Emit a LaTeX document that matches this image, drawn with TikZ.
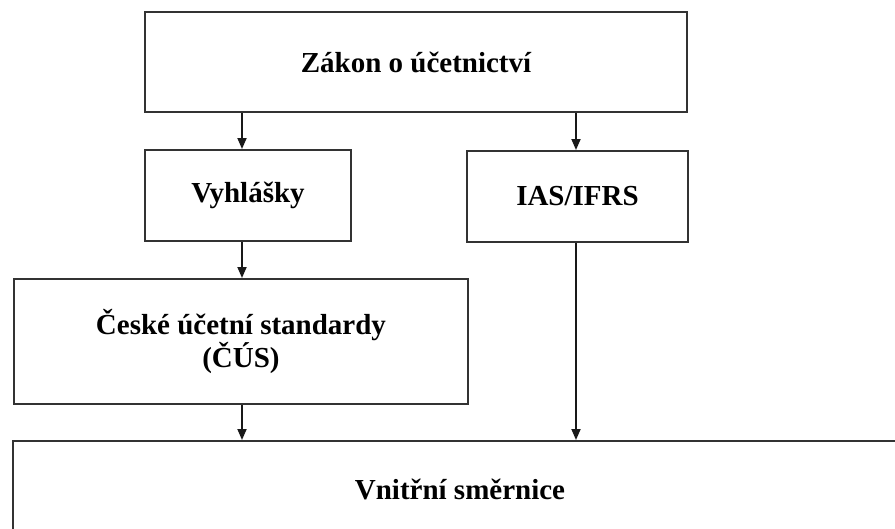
\documentclass[tikz,border=0pt]{standalone}
\usepackage{fontspec}
\setmainfont{Liberation Serif}
\usetikzlibrary{arrows.meta}
\begin{document}
\begin{tikzpicture}[x=1pt,y=-1pt,
  box/.style={draw=black!80, line width=2pt, anchor=north west, inner sep=0pt,
    align=center, font=\fontsize{29}{29}\selectfont\bfseries},
  arr/.style={draw=black!90, line width=1.8pt, -{Triangle[length=11pt,width=9pt]}}]
\useasboundingbox (0,0) rectangle (895,528);
\clip (0,0) rectangle (895,528);
\node[box, minimum width=542pt, minimum height=100pt] (zakon) at (144,11) {Zákon o účetnictví};
\node[box, minimum width=206pt, minimum height=91pt] (vyh) at (144,149) {Vyhlášky};
\node[box, minimum width=221pt, minimum height=91pt] (ias) at (466,150) {IAS/IFRS};
\node[box, minimum width=454pt, minimum height=125pt] (cus) at (13,278) {České účetní standardy\\(ČÚS)};
\node[box, minimum width=894pt, minimum height=96pt] (vnit) at (12,440) {Vnitřní směrnice};
\draw[arr] (zakon.south -| 242,0) -- (vyh.north -| 242,0);
\draw[arr] (zakon.south -| 576,0) -- (ias.north -| 576,0);
\draw[arr] (vyh.south -| 242,0) -- (cus.north -| 242,0);
\draw[arr] (cus.south -| 242,0) -- (vnit.north -| 242,0);
\draw[arr] (ias.south -| 576,0) -- (vnit.north -| 576,0);
\end{tikzpicture}
\end{document}
